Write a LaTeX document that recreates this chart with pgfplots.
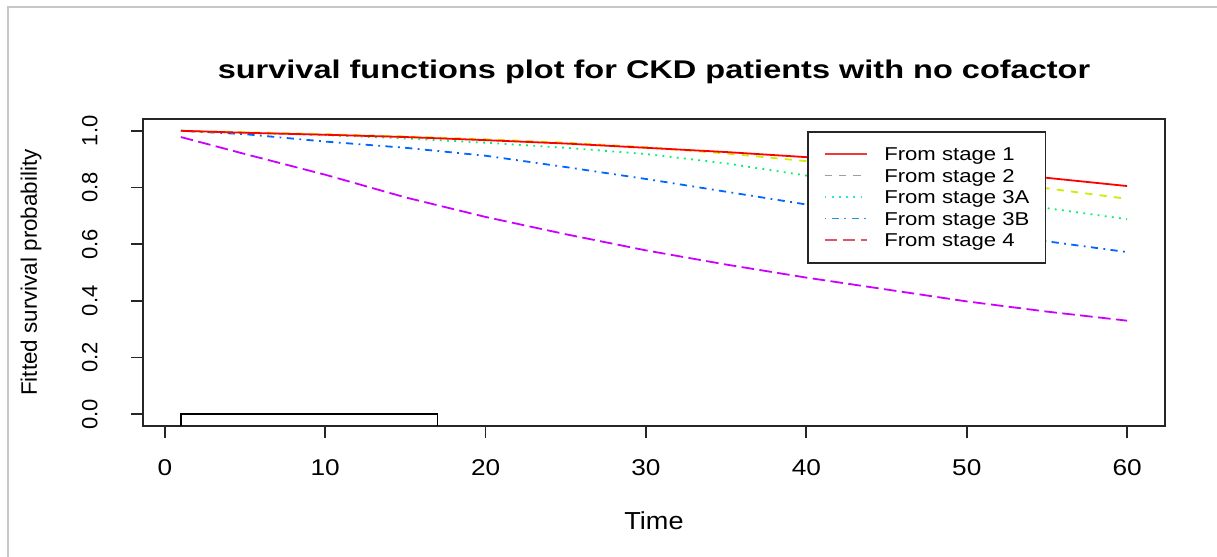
\documentclass[border=0pt]{standalone}
\usepackage{graphicx}
\usepackage{fontspec}
\setmainfont{Liberation Sans}
\usepackage{pgfplots}
\pgfplotsset{compat=1.18}

\definecolor{cA}{HTML}{FF0000}
\definecolor{cB}{HTML}{CCEE00}
\definecolor{cC}{HTML}{00F066}
\definecolor{cD}{HTML}{0066FF}
\definecolor{cE}{HTML}{CC00FF}
\definecolor{lgA}{HTML}{F03A3A}
\definecolor{lgB}{HTML}{9E9E9E}
\definecolor{lgC}{HTML}{28E2E5}
\definecolor{lgD}{HTML}{2297E6}
\definecolor{lgE}{HTML}{DF536B}

\tikzset{
  rdash/.style={dash pattern=on 3.6pt off 3.6pt},
  rdot/.style={dash pattern=on 0.9pt off 2.7pt},
  rdotdash/.style={dash pattern=on 0.9pt off 2.7pt on 3.6pt off 2.7pt},
  rlong/.style={dash pattern=on 6.3pt off 2.7pt},
}
\newcommand{\hs}[2]{\scalebox{#1}[1]{#2}}

\begin{document}
\begin{tikzpicture}
\useasboundingbox (-71.5pt,-65.5pt) rectangle (537pt,213pt);
% light frame of the original screenshot
\draw[black!22, line width=1pt] (-67.5pt,-66pt) -- (-67.5pt,209.5pt) -- (538pt,209.5pt);

\begin{axis}[
    at={(0,0)}, anchor=south west,
    scale only axis,
    width=511pt, height=153.5pt,
    xmin=-1.36, xmax=62.36,
    ymin=-0.0416, ymax=1.0416,
    axis line style={black!85, line width=0.9pt},
    xtick={0,10,...,60},
    ytick={0,0.2,...,1.0},
    xtick pos=bottom, ytick pos=left,
    tick align=outside,
    major tick length=6pt,
    every tick/.style={black!85, line width=0.9pt},
    /pgf/number format/assume math mode=true,
    xticklabel={\hs{1.15}{\pgfmathprintnumber{\tick}}},
    yticklabel={\pgfmathprintnumber[fixed,fixed zerofill,precision=1]{\tick}},
    xticklabel style={font=\fontsize{11.4pt}{13pt}\selectfont, anchor=center},
    xticklabel shift=14.85pt,
    yticklabel style={font=\fontsize{11pt}{13pt}\selectfont, rotate=90, anchor=center},
    yticklabel shift=20.65pt,
    xlabel={\hs{1.1}{Time}},
    xlabel style={font=\fontsize{12.3pt}{14pt}\selectfont, at={(axis description cs:0.5,-0.3094)}, anchor=center},
    ylabel={Fitted survival probability},
    ylabel style={font=\fontsize{11.2pt}{13pt}\selectfont, at={(axis description cs:-0.1094,0.5)}, anchor=center, rotate=0},
    title={\hs{1.27}{\bfseries survival functions plot for CKD patients with no cofactor}},
    title style={font=\fontsize{12.8pt}{15pt}\selectfont, at={(axis description cs:0.5,1.116)}, anchor=center},
    legend style={at={(0.6497,0.9609)}, anchor=north west,
        draw=black!85, line width=0.9pt,
        font=\fontsize{9.3pt}{10.75pt}\selectfont,
        inner xsep=8pt, inner ysep=5.9pt,
        row sep=0pt, column sep=8.5pt,
        nodes={inner sep=0pt, text height=8.5pt, text depth=2.25pt}},
    legend cell align=left,
    legend image code/.code={\draw[#1, line width=0.7pt] (0pt,0.3pt) -- (21pt,0.3pt);},
]

\addlegendimage{lgA, solid}
\addlegendentry{\hs{1.19}{From stage 1}}
\addlegendimage{lgB, rdash}
\addlegendentry{\hs{1.19}{From stage 2}}
\addlegendimage{lgC, rdot}
\addlegendentry{\hs{1.19}{From stage 3A}}
\addlegendimage{lgD, rdotdash}
\addlegendentry{\hs{1.19}{From stage 3B}}
\addlegendimage{lgE, rlong}
\addlegendentry{\hs{1.19}{From stage 4}}

% step line at the foot of the plot
\addplot[black, line width=0.9pt, forget plot] coordinates {
    (1,-0.2) (1,0) (17,0) (17,-0.2)
};

% stage 4
\addplot[cE, line width=0.9pt, rlong, forget plot] coordinates {
    (1,0.978) (5,0.918) (10,0.845) (15,0.765) (20,0.696) (25,0.635) (30,0.578)
    (35,0.528) (40,0.482) (45,0.440) (50,0.398) (55,0.362) (60,0.330)
};

% stage 3B
\addplot[cD, line width=0.9pt, rdotdash, forget plot] coordinates {
    (1,1.000) (5,0.988) (10,0.962) (15,0.940) (20,0.912) (25,0.872) (30,0.830)
    (35,0.785) (40,0.740) (45,0.695) (50,0.655) (55,0.610) (60,0.572)
};

% stage 3A
\addplot[cC, line width=0.9pt, rdot, forget plot] coordinates {
    (1,1.000) (5,0.993) (10,0.985) (15,0.973) (20,0.958) (25,0.940) (30,0.918)
    (35,0.885) (40,0.842) (45,0.800) (50,0.762) (55,0.727) (60,0.688)
};

% stage 2
\addplot[cB, line width=0.9pt, rdash, forget plot] coordinates {
    (1,1.000) (5,0.995) (10,0.988) (15,0.980) (20,0.970) (25,0.958) (30,0.942)
    (35,0.920) (40,0.893) (45,0.863) (50,0.830) (55,0.797) (60,0.760)
};

% stage 1
\addplot[cA, line width=0.9pt, forget plot] coordinates {
    (1,1.000) (5,0.993) (10,0.986) (15,0.978) (20,0.967) (25,0.955) (30,0.940)
    (35,0.925) (40,0.907) (45,0.885) (50,0.860) (55,0.834) (60,0.805)
};

\end{axis}
\end{tikzpicture}
\end{document}
